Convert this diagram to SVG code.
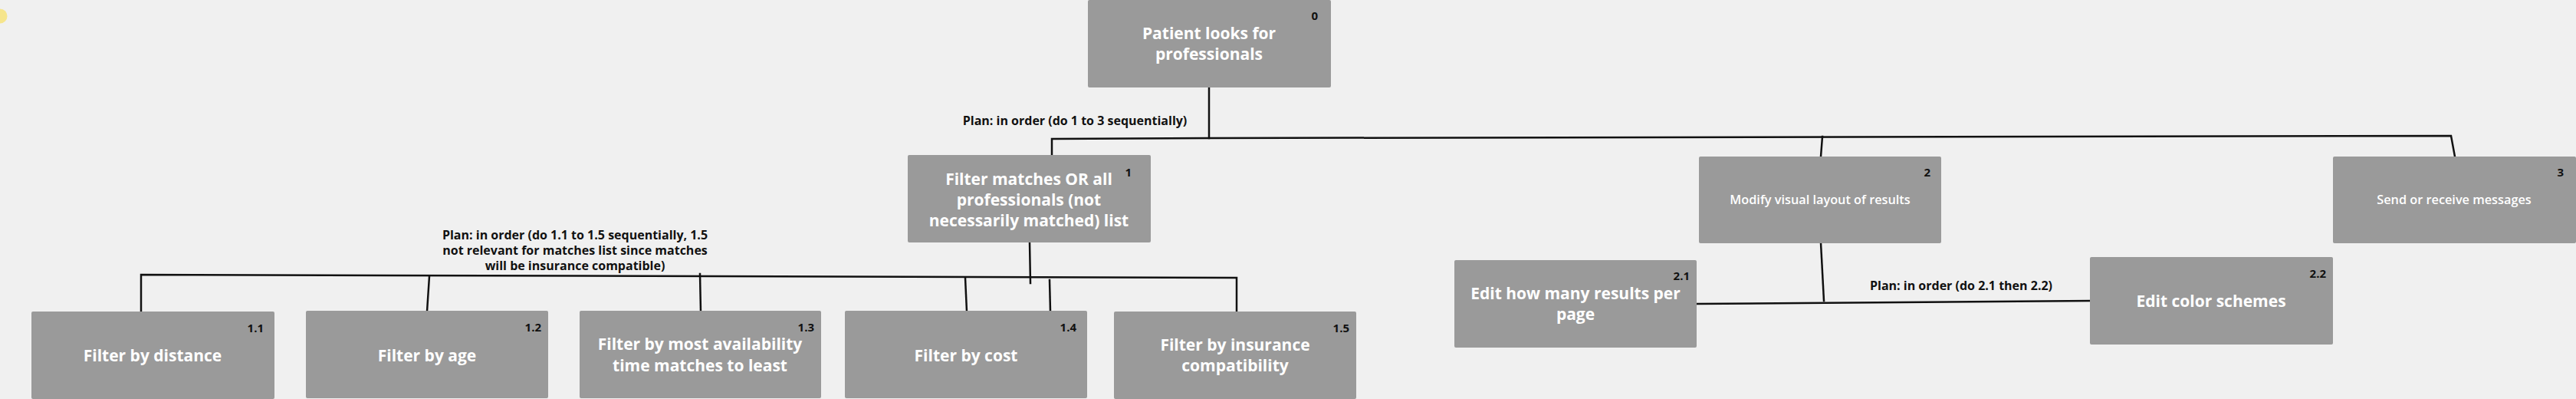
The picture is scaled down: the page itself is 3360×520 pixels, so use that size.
<svg xmlns="http://www.w3.org/2000/svg" width="3360" height="520" viewBox="0 0 3360 520">
<style>
.bg{fill:#f0f0f0}
.box{fill:#9a9a9a}
.t{font-family:"Open Sans","Noto Sans","Liberation Sans",sans-serif;font-weight:700;font-size:21px;fill:#ffffff;text-anchor:middle}
.ts{font-family:"Open Sans","Noto Sans","Liberation Sans",sans-serif;font-weight:600;font-size:16.3px;fill:#ffffff;text-anchor:middle}
.n{font-family:"Open Sans","Noto Sans","Liberation Sans",sans-serif;font-weight:700;font-size:15px;fill:#111111;text-anchor:end}
.lbl{font-family:"Open Sans","Noto Sans","Liberation Sans",sans-serif;font-weight:700;font-size:16px;fill:#111111;text-anchor:middle}
.c{fill:none;stroke:#111111;stroke-width:2.5;stroke-linecap:square;stroke-linejoin:miter}
</style>
<rect class="bg" x="0" y="0" width="3360" height="520"/>
<circle cx="0" cy="21" r="9.5" fill="#f6e58c"/>
<g id="connectors">
<path class="c" d="M1577 114 V180"/>
<path class="c" d="M1372 204 V181 L1577 180 L3197 177 L3202 204"/>
<path class="c" d="M2377 178 L2375 204"/>
<path class="c" d="M1343 316 L1344 369"/>
<path class="c" d="M184 414 V358 L1613 362 V406"/>
<path class="c" d="M560 360 L557 406"/>
<path class="c" d="M913 357 L914 406"/>
<path class="c" d="M1259 362 L1261 406"/>
<path class="c" d="M1369 365 L1370 406"/>
<path class="c" d="M2375 317 L2379 392"/>
<path class="c" d="M2213 396 L2727 392"/>
<text class="lbl" x="1402" y="163">Plan: in order (do 1 to 3 sequentially)</text>
<text class="lbl" x="750" y="312">Plan: in order (do 1.1 to 1.5 sequentially, 1.5</text>
<text class="lbl" x="750" y="332">not relevant for matches list since matches</text>
<text class="lbl" x="750" y="352">will be insurance compatible)</text>
<text class="lbl" x="2558" y="378">Plan: in order (do 2.1 then 2.2)</text>
</g>
<g id="n0">
<rect class="box" x="1419" y="0" width="317" height="114" rx="2"/>
<text class="t" x="1577" y="51">Patient looks for</text>
<text class="t" x="1577" y="78">professionals</text>
<text class="n" x="1719" y="26">0</text>
</g>
<g id="n1">
<rect class="box" x="1184" y="202" width="317" height="114" rx="2"/>
<text class="t" x="1342" y="241">Filter matches OR all</text>
<text class="t" x="1342" y="268">professionals (not</text>
<text class="t" x="1342" y="295">necessarily matched) list</text>
<text class="n" x="1476" y="230">1</text>
</g>
<g id="n2">
<rect class="box" x="2216" y="204" width="316" height="113" rx="2"/>
<text class="ts" x="2374" y="266">Modify visual layout of results</text>
<text class="n" x="2518" y="230">2</text>
</g>
<g id="n3">
<rect class="box" x="3043" y="204" width="317" height="113" rx="2"/>
<text class="ts" x="3201" y="266">Send or receive messages</text>
<text class="n" x="3344" y="230">3</text>
</g>
<g id="n2-1">
<rect class="box" x="1897" y="339" width="316" height="114" rx="2"/>
<text class="t" x="2055" y="390">Edit how many results per</text>
<text class="t" x="2055" y="417">page</text>
<text class="n" x="2204" y="365">2.1</text>
</g>
<g id="n2-2">
<rect class="box" x="2726" y="335" width="317" height="114" rx="2"/>
<text class="t" x="2884" y="400">Edit color schemes</text>
<text class="n" x="3034" y="362">2.2</text>
</g>
<g id="n1-1">
<rect class="box" x="41" y="406" width="317" height="114" rx="2"/>
<text class="t" x="199" y="471">Filter by distance</text>
<text class="n" x="344" y="433">1.1</text>
</g>
<g id="n1-2">
<rect class="box" x="399" y="405" width="316" height="114" rx="2"/>
<text class="t" x="557" y="471">Filter by age</text>
<text class="n" x="706" y="432">1.2</text>
</g>
<g id="n1-3">
<rect class="box" x="756" y="405" width="315" height="114" rx="2"/>
<text class="t" x="913" y="456">Filter by most availability</text>
<text class="t" x="913" y="484">time matches to least</text>
<text class="n" x="1062" y="432">1.3</text>
</g>
<g id="n1-4">
<rect class="box" x="1102" y="405" width="316" height="114" rx="2"/>
<text class="t" x="1260" y="471">Filter by cost</text>
<text class="n" x="1404" y="432">1.4</text>
</g>
<g id="n1-5">
<rect class="box" x="1453" y="406" width="316" height="114" rx="2"/>
<text class="t" x="1611" y="457">Filter by insurance</text>
<text class="t" x="1611" y="484">compatibility</text>
<text class="n" x="1760" y="433">1.5</text>
</g>
</svg>
